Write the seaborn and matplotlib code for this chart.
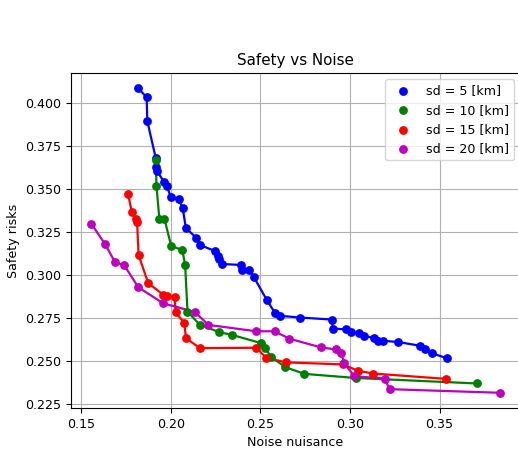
import numpy as np
import pandas as pd
import matplotlib
matplotlib.use("Agg")
import matplotlib.pyplot as plt
import seaborn as sns

# Pareto fronts: noise nuisance vs safety risk for each standard deviation
noise_sd5 = [0.1818, 0.1866, 0.1870, 0.1917, 0.1921, 0.1923, 0.1964, 0.1979, 0.2001, 0.2044,
             0.2067, 0.2085, 0.2144, 0.2163, 0.2246, 0.2263, 0.2271, 0.2286, 0.2391, 0.2397,
             0.2439, 0.2464, 0.2537, 0.2584, 0.2612, 0.2721, 0.2902, 0.2904, 0.2979, 0.3006,
             0.3050, 0.3081, 0.3133, 0.3155, 0.3187, 0.3271, 0.3391, 0.3419, 0.3458, 0.3542]
safety_sd5 = [0.4087, 0.4035, 0.3895, 0.3680, 0.3628, 0.3605, 0.3541, 0.3517, 0.3453, 0.3442,
              0.3390, 0.3273, 0.3215, 0.3174, 0.3140, 0.3110, 0.3090, 0.3064, 0.3058, 0.3026,
              0.3026, 0.2988, 0.2853, 0.2776, 0.2762, 0.2752, 0.2740, 0.2688, 0.2683, 0.2667,
              0.2660, 0.2644, 0.2634, 0.2617, 0.2617, 0.2609, 0.2588, 0.2569, 0.2544, 0.2515]

noise_sd10 = [0.1917, 0.1921, 0.1937, 0.1965, 0.2003, 0.2066, 0.2081, 0.2094, 0.2162, 0.2271,
              0.2342, 0.2504, 0.2528, 0.2558, 0.2640, 0.2746, 0.3034, 0.3711]
safety_sd10 = [0.3669, 0.3517, 0.3328, 0.3328, 0.3169, 0.3144, 0.3055, 0.2787, 0.2711, 0.2667,
               0.2651, 0.2603, 0.2573, 0.2525, 0.2463, 0.2424, 0.2400, 0.2368]

noise_sd15 = [0.1763, 0.1783, 0.1806, 0.1813, 0.1821, 0.1875, 0.1960, 0.1977, 0.2022, 0.2028,
              0.2077, 0.2085, 0.2163, 0.2478, 0.2534, 0.2644, 0.2962, 0.3045, 0.3130, 0.3535]
safety_sd15 = [0.3469, 0.3368, 0.3324, 0.3306, 0.3116, 0.2952, 0.2884, 0.2875, 0.2870, 0.2783,
               0.2719, 0.2632, 0.2574, 0.2576, 0.2517, 0.2491, 0.2479, 0.2442, 0.2426, 0.2395]

noise_sd20 = [0.1558, 0.1634, 0.1690, 0.1740, 0.1820, 0.1958, 0.2134, 0.2211, 0.2478, 0.2580,
              0.2662, 0.2838, 0.2923, 0.2950, 0.2969, 0.3025, 0.3194, 0.3221, 0.3835]
safety_sd20 = [0.3297, 0.3180, 0.3074, 0.3058, 0.2928, 0.2835, 0.2785, 0.2709, 0.2672, 0.2672,
               0.2629, 0.2578, 0.2566, 0.2547, 0.2485, 0.2410, 0.2397, 0.2335, 0.2314]

labels = ["sd = 5 [km]", "sd = 10 [km]", "sd = 15 [km]", "sd = 20 [km]"]
colors = ["b", "g", "r", "m"]

frames = []
for lab, xs, ys in zip(labels,
                       [noise_sd5, noise_sd10, noise_sd15, noise_sd20],
                       [safety_sd5, safety_sd10, safety_sd15, safety_sd20]):
    frames.append(pd.DataFrame({"noise": xs, "safety": ys, "case": lab}))
df = pd.concat(frames, ignore_index=True)

plt.rcParams["font.size"] = 9.06
plt.rcParams["font.family"] = ["DejaVu Sans"]

fig = plt.figure(figsize=(5.18, 4.49), dpi=100)
ax = fig.add_axes([71 / 518, 41 / 449, 449 / 518, 335 / 449])

palette = dict(zip(labels, colors))
for lab in labels:
    sub = df[df["case"] == lab]
    sns.lineplot(data=sub, x="noise", y="safety", color=palette[lab], sort=False,
                 estimator=None, linewidth=1.6, legend=False, ax=ax)
    sns.scatterplot(data=sub, x="noise", y="safety", color=palette[lab], s=40,
                    linewidth=0, label=lab, ax=ax, zorder=3)

ax.grid(True, color="#b0b0b0", linewidth=0.8)
ax.set_axisbelow(True)
ax.set_xticks([0.15, 0.20, 0.25, 0.30, 0.35])
ax.set_yticks([0.225, 0.250, 0.275, 0.300, 0.325, 0.350, 0.375, 0.400])
ax.set_xlabel("Noise nuisance")
ax.set_ylabel("Safety risks")
ax.set_title("Safety vs Noise")
ax.legend(loc="upper right")

fig.savefig("out.png", dpi=100)
